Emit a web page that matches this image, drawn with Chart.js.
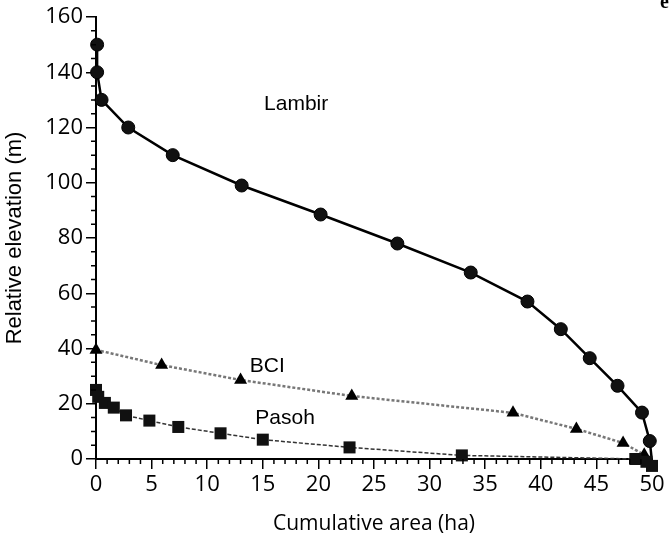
<!DOCTYPE html>
<html>
<head>
<meta charset="utf-8">
<script src="https://cdn.jsdelivr.net/npm/chart.js@4/dist/chart.umd.min.js"></script>
<style>
    html, body { margin: 0; padding: 0; background: #fff; }
    #wrap { width: 669px; height: 541px; position: relative; }
</style>
</head>
<body>
<div id="wrap"><canvas id="chartCanvas"></canvas></div>
<script>
// ================= DATA =================

const lambirX = [0.1, 0.1, 0.5, 2.9, 6.9, 13.1, 20.2, 27.1, 33.7, 38.8, 41.8, 44.4, 46.9, 49.1, 49.8, 50];
const lambirY = [150, 140, 130, 120, 110, 99, 88.5, 78, 67.5, 57, 47, 36.5, 26.5, 16.8, 6.5, -1];

const bciX = [0, 5.9, 13, 23, 37.5, 43.2, 47.4, 49.3, 50];
const bciY = [39.5, 34, 28.6, 22.8, 16.7, 10.9, 5.8, 1.5, -1];

const pasohX = [0, 0.2, 0.8, 1.6, 2.7, 4.8, 7.4, 11.2, 15, 22.8, 32.9, 48.5, 49.5, 50];
const pasohY = [25, 22.5, 20.3, 18.6, 15.8, 13.9, 11.6, 9.3, 7, 4.2, 1.3, 0, -1, -2.5];

const xTicks = [0, 5, 10, 15, 20, 25, 30, 35, 40, 45, 50];
const yTicks = [0, 20, 40, 60, 80, 100, 120, 140, 160];

const siteNames = ["Lambir", "BCI", "Pasoh"];
const siteLabelX = [18, 15.4, 17];
const siteLabelY = [128.5, 33.5, 14.8];

// ================= HELPERS =================

function toPoints(xs, ys) {
    return xs.map((x, i) => ({ x: x, y: ys[i] }));
}

// minor ticks + site names
const extras = {
    id: "extras",
    afterDraw(c) {
        const ctx = c.ctx;
        const xs = c.scales.x;
        const ys = c.scales.y;

        ctx.save();
        ctx.strokeStyle = "#000";
        ctx.lineWidth = 1.5;
        ctx.beginPath();
        for (let v = 0; v <= 50; v++) {
            if (v % 5 === 0) continue;
            const px = xs.getPixelForValue(v);
            ctx.moveTo(px, ys.bottom);
            ctx.lineTo(px, ys.bottom + 5);
        }
        for (let v = 0; v <= 160; v += 5) {
            if (v % 20 === 0) continue;
            const py = ys.getPixelForValue(v);
            ctx.moveTo(xs.left, py);
            ctx.lineTo(xs.left - 5, py);
        }
        ctx.stroke();

        ctx.fillStyle = "#000";
        ctx.font = "21px 'Liberation Sans'";
        ctx.textAlign = "center";
        ctx.textBaseline = "middle";
        siteNames.forEach((name, i) => {
            ctx.fillText(name, xs.getPixelForValue(siteLabelX[i]), ys.getPixelForValue(siteLabelY[i]));
        });

        // panel letter, cut at the top edge
        ctx.font = "bold 20px 'Liberation Serif'";
        ctx.textAlign = "left";
        ctx.textBaseline = "alphabetic";
        ctx.fillText("e", 660, 8);
        ctx.restore();
    }
};

// ================= CHART =================

new Chart(document.getElementById("chartCanvas"), {
    type: "scatter",
    data: {
        datasets: [
            {
                label: "Pasoh",
                data: toPoints(pasohX, pasohY),
                showLine: true,
                borderColor: "#333",
                borderWidth: 1.5,
                borderDash: [4, 2],
                pointStyle: "rect",
                pointRadius: 8.5,
                pointBackgroundColor: "#111",
                pointBorderColor: "#111",
                pointBorderWidth: 0,
                clip: false
            },
            {
                label: "BCI",
                data: toPoints(bciX, bciY),
                showLine: true,
                borderColor: "#777",
                borderWidth: 2.5,
                borderDash: [3, 2],
                pointStyle: "triangle",
                pointRadius: bciX.map((x, i) => i === bciX.length - 1 ? 0 : 7.5),
                pointBackgroundColor: "#000",
                pointBorderColor: "#000",
                pointBorderWidth: 0,
                clip: false
            },
            {
                label: "Lambir",
                data: toPoints(lambirX, lambirY),
                showLine: true,
                borderColor: "#000",
                borderWidth: 2.5,
                pointStyle: "circle",
                pointRadius: lambirX.map((x, i) => i === lambirX.length - 1 ? 0 : 6.5),
                pointBackgroundColor: "#111",
                pointBorderColor: "#000",
                pointBorderWidth: 1,
                clip: false
            }
        ]
    },
    options: {
        responsive: true,
        maintainAspectRatio: false,
        animation: false,
        layout: { padding: { top: 17, right: 17, left: 0, bottom: 0 } },
        plugins: {
            legend: { display: false },
            tooltip: { enabled: false }
        },
        scales: {
            x: {
                type: "linear",
                min: 0,
                max: 50,
                afterBuildTicks: s => { s.ticks = xTicks.map(v => ({ value: v })); },
                afterFit: s => { s.height = 82; },
                border: { display: true, color: "#000", width: 2 },
                grid: { drawOnChartArea: false, drawTicks: true, tickLength: 10, color: "#000", lineWidth: 1.5 },
                ticks: { color: "#000", padding: 3, maxRotation: 0, font: { family: "'Open Sans'", size: 22 } },
                title: {
                    display: true,
                    text: "Cumulative area (ha)",
                    color: "#000",
                    padding: { top: 0, bottom: 4 },
                    font: { family: "'Open Sans'", size: 21 }
                }
            },
            y: {
                type: "linear",
                min: 0,
                max: 160,
                afterBuildTicks: s => { s.ticks = yTicks.map(v => ({ value: v })); },
                afterFit: s => { s.width = 96; },
                border: { display: true, color: "#000", width: 2 },
                grid: { drawOnChartArea: false, drawTicks: true, tickLength: 10, color: "#000", lineWidth: 1.5 },
                ticks: { color: "#000", padding: 3, font: { family: "'Open Sans'", size: 22 } },
                title: {
                    display: true,
                    text: "Relative elevation (m)",
                    color: "#000",
                    padding: { top: 2, bottom: 0 },
                    font: { family: "'Liberation Sans'", size: 22 }
                }
            }
        }
    },
    plugins: [extras]
});
</script>
</body>
</html>
